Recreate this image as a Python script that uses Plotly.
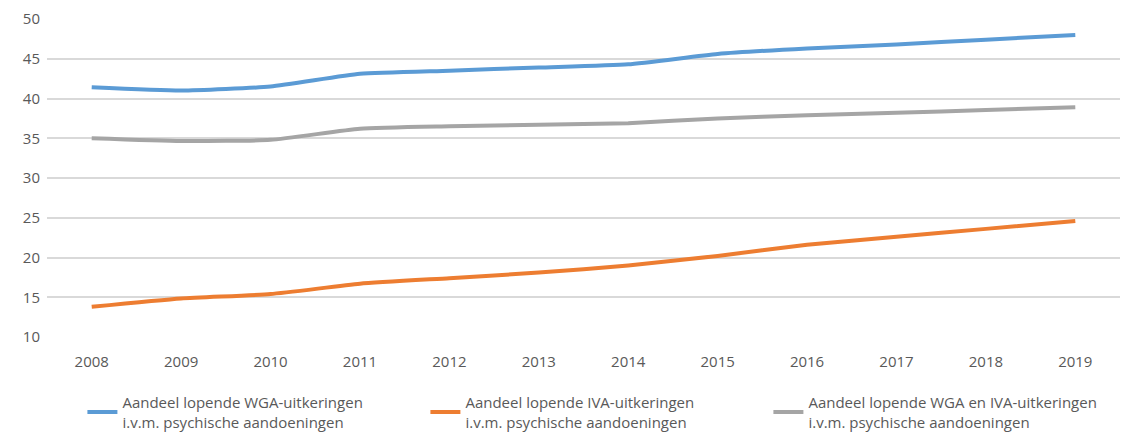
import plotly.graph_objects as go

years = ["2008", "2009", "2010", "2011", "2012", "2013", "2014", "2015", "2016", "2017", "2018", "2019"]
wga = [41.4, 41.0, 41.5, 43.1, 43.5, 43.9, 44.3, 45.6, 46.3, 46.8, 47.4, 48.0]
iva = [13.8, 14.85, 15.4, 16.7, 17.4, 18.1, 19.0, 20.2, 21.6, 22.6, 23.6, 24.6]
wga_iva = [35.0, 34.65, 34.8, 36.2, 36.5, 36.7, 36.9, 37.5, 37.9, 38.2, 38.55, 38.9]

names = [
    "Aandeel lopende WGA-uitkeringen<br>i.v.m. psychische aandoeningen",
    "Aandeel lopende IVA-uitkeringen<br>i.v.m. psychische aandoeningen",
    "Aandeel lopende WGA en IVA-uitkeringen<br>i.v.m. psychische aandoeningen",
]
colors = ["#5B9BD5", "#ED7D31", "#A5A5A5"]
series = [wga, iva, wga_iva]

fig = go.Figure()
for name, col, vals in zip(names, colors, series):
    fig.add_trace(go.Scatter(
        x=years, y=vals, name=name, mode="lines",
        line=dict(color=col, width=4, shape="spline", smoothing=0.5),
    ))

font_family = "Open Sans, Noto Sans, sans-serif"
fig.update_layout(
    width=1130, height=427,
    margin=dict(l=39, r=18, t=11, b=98),
    paper_bgcolor="white", plot_bgcolor="white",
    font=dict(family=font_family, size=14, color="#595959"),
    showlegend=True,
    legend=dict(
        orientation="h", x=0.033, xanchor="left",
        yref="container", y=0.115, yanchor="top",
        entrywidth=298, entrywidthmode="pixels",
        font=dict(size=15, color="#595959"),
        tracegroupgap=0,
    ),
    xaxis=dict(
        type="category", range=[-0.5, 11.5], showgrid=False, showline=False, ticks="",
        zeroline=False, ticklabelstandoff=14, automargin=False,
        tickfont=dict(size=15, color="#595959"),
    ),
    yaxis=dict(
        range=[10, 50], dtick=5, showgrid=True, gridcolor="#D9D9D9", gridwidth=1.5,
        zeroline=False, showline=False, ticks="", ticklabelstandoff=6, automargin=False,
        tickfont=dict(size=15, color="#595959"),
    ),
)

fig.write_html("out.html")
